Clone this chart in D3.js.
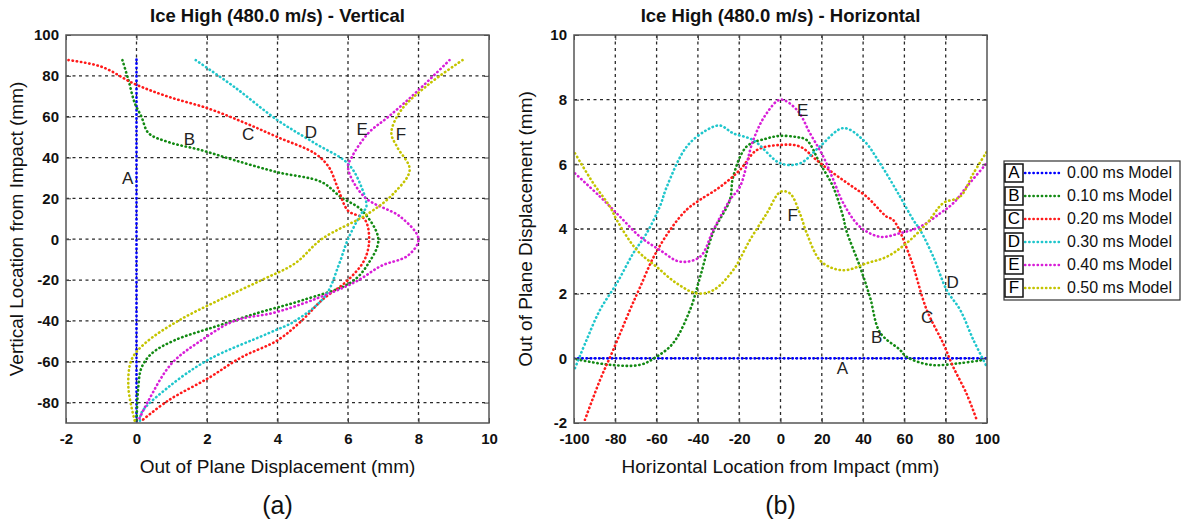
<!DOCTYPE html>
<html>
<head>
<meta charset="utf-8">
<script src="https://cdn.jsdelivr.net/npm/d3@7"></script>
<style>
  body { margin: 0; background: #fff; }
  svg { font-family: Arial, "Liberation Sans", sans-serif; }
  .tick text { font-size: 15px; font-weight: bold; fill: #111; }
  .grid line { stroke: #2a2a2a; stroke-dasharray: 3,3.5; stroke-width: 1.3; }
</style>
</head>
<body>
<svg id="chart" width="1188" height="526"></svg>
<script>
const seriesNames = ['0.00 ms Model', '0.10 ms Model', '0.20 ms Model', '0.30 ms Model', '0.40 ms Model', '0.50 ms Model'];
const seriesKeys = ['A', 'B', 'C', 'D', 'E', 'F'];
const colors = ['#0000ff', '#138a13', '#ff1a1a', '#1fc6cc', '#d81ed8', '#c4c400'];

// (a) vertical cut: [displacement, vertical location]
const vertA = [[0, 88], [0, 60], [0, 30], [0, 0], [0, -30], [0, -60], [0, -90]];
const vertB = [[-0.4, 87.7], [-0.23, 78], [-0.05, 66.7], [0.14, 60], [0.34, 52], [0.9, 47.6], [1.84, 43.6], [2.78, 38.7], [4.0, 32.8], [5.25, 28], [5.8, 20.6], [6.4, 14], [6.86, 0], [6.58, -11.8], [6.1, -21], [4.68, -30], [3.46, -36], [2.2, -43], [1.08, -49.5], [0.43, -56], [0.14, -63], [0.05, -72.5], [0, -90]];
const vertC = [[-1.93, 87.7], [-1.0, 84.5], [-0.05, 76], [0.9, 69.8], [2.04, 64], [3.07, 57], [4.0, 50], [5.06, 42], [5.45, 35.5], [5.7, 25.6], [6.0, 14], [6.47, 9.8], [6.6, 0], [6.47, -10], [6.0, -20], [5.25, -30], [4.68, -40], [4.0, -49.5], [2.98, -57.8], [2.04, -68], [0.9, -79], [0.14, -89]];
const vertD = [[1.68, 87.7], [2.78, 74.5], [4.0, 58.3], [5.06, 47], [6.0, 37], [6.38, 25.6], [6.52, 15.7], [6.38, 12.6], [6.0, 0], [5.73, -13], [5.35, -27.9], [4.5, -40], [3.75, -46], [2.04, -59], [0.9, -72.5], [0.14, -85], [0.1, -90]];
const vertE = [[8.88, 87.7], [8.0, 73], [7.15, 60], [6.58, 52], [6.1, 40], [6.0, 35], [6.47, 20.6], [7.5, 10.8], [8.0, 0], [7.7, -8], [6.95, -13], [6.2, -21], [4.96, -30], [3.9, -36], [2.78, -40], [1.84, -49.5], [0.99, -61], [0.34, -79], [0.05, -89]];
const vertF = [[9.25, 87.7], [8.3, 76], [7.5, 63], [7.23, 52], [7.4, 45], [7.75, 34], [7.3, 22.5], [6.58, 12.6], [5.25, 0], [4.5, -11.8], [3.55, -20], [2.32, -30], [1.18, -40], [0.24, -51], [-0.14, -59], [-0.23, -72.5], [-0.05, -89]];
const vertLabels = [[-0.25, 29], [1.5, 48.5], [3.17, 51], [4.95, 52], [6.4, 53], [7.5, 51]];

// (b) horizontal cut: [horizontal location, displacement]
const horA = [[-100, 0], [-50, 0], [0, 0], [50, 0], [100, 0]];
const horB = [[-98.7, -0.03], [-82.6, -0.2], [-68, -0.2], [-60, 0.05], [-52, 0.47], [-43.8, 1.5], [-39, 2.5], [-32.6, 3.9], [-24.5, 4.9], [-23, 5.6], [-16.4, 6.55], [-6.7, 6.8], [0, 6.88], [8, 6.84], [12.7, 6.75], [19, 6.04], [25.5, 5.3], [30.3, 4.38], [31.8, 3.97], [38.5, 2.83], [43.3, 1.9], [48.2, 0.8], [57.9, 0.26], [61, 0.05], [72.4, -0.2], [87, -0.15], [98, -0.05]];
const horC = [[-94.7, -1.9], [-87.4, -0.67], [-81, 0.26], [-72.9, 1.5], [-68, 2.2], [-61.7, 3.1], [-53.5, 3.97], [-45.4, 4.6], [-39, 4.9], [-29.3, 5.3], [-19.6, 5.83], [-11.5, 6.44], [0, 6.6], [9.4, 6.55], [17.5, 6.13], [25.5, 5.73], [33.7, 5.36], [41.7, 5.0], [51.4, 4.38], [54.6, 4.28], [62.7, 3.14], [70.8, 1.5], [78.8, 0.46], [83.6, -0.26], [90, -1.08], [95, -1.9]];
const horD = [[-99.5, -0.3], [-93.9, 0.57], [-87.4, 1.5], [-79.3, 2.32], [-71.3, 3.25], [-64.8, 3.87], [-58.4, 4.7], [-55.1, 5.3], [-45.4, 6.55], [-35.7, 7.06], [-29.3, 7.2], [-22.9, 6.96], [-13.2, 6.75], [0, 6.03], [9.4, 6.03], [19, 6.55], [30.4, 7.12], [40.1, 6.75], [48.2, 6.03], [57.9, 5.0], [64.3, 4.28], [67.6, 3.97], [74, 3.14], [80.5, 2.11], [87, 1.5], [93.4, 0.57], [99.9, -0.26]];
const horE = [[-99.5, 5.72], [-87.4, 5.0], [-77.7, 4.38], [-68, 3.76], [-58.4, 3.35], [-48.7, 2.99], [-39, 3.14], [-32.5, 3.97], [-24.5, 4.9], [-19.6, 5.31], [-13.2, 6.75], [-6.7, 7.58], [0, 8.0], [8, 7.68], [14.3, 6.96], [20.7, 6.24], [25.6, 5.52], [30.4, 4.8], [38.5, 4.07], [48.2, 3.76], [57.9, 3.87], [67.6, 4.07], [77.2, 4.48], [83.7, 4.8], [90.2, 5.31], [99.8, 6.03]];
const horF = [[-99.5, 6.34], [-90.6, 5.41], [-82.6, 4.69], [-79.3, 4.28], [-69.6, 3.35], [-60, 2.83], [-50.3, 2.32], [-40.6, 2.01], [-32.5, 2.11], [-22.9, 2.73], [-14.8, 3.66], [-6.7, 4.48], [0, 5.15], [4.6, 5.1], [9.4, 4.48], [12.7, 3.87], [19, 3.04], [25.6, 2.78], [32, 2.73], [41.7, 2.94], [51.4, 3.14], [61, 3.56], [70.8, 4.17], [78.8, 4.8], [87, 5.0], [93.4, 5.72], [99.9, 6.39]];
const horLabels = [[30, -0.36], [46.6, 0.62], [71, 1.24], [83.4, 2.3], [10.7, 7.63], [5.9, 4.38]];

const vertTicksX = d3.range(-2, 11, 2);
const vertTicksY = d3.range(-80, 101, 20);
const horTicksX = d3.range(-100, 101, 20);
const horTicksY = d3.range(-2, 11, 2);

const svg = d3.select('#chart');
const plain = d => String(d);

function drawPanel(opts) {
  const { left, top, width, height } = opts;
  const x = d3.scaleLinear().domain(opts.xDomain).range([left, left + width]);
  const y = d3.scaleLinear().domain(opts.yDomain).range([top + height, top]);
  const g = svg.append('g');

  // grid
  const grid = g.append('g').attr('class', 'grid');
  grid.selectAll('.gx').data(opts.xTicks.filter(t => t !== opts.xDomain[0] && t !== opts.xDomain[1]))
    .enter().append('line')
    .attr('x1', d => x(d)).attr('x2', d => x(d))
    .attr('y1', top).attr('y2', top + height);
  grid.selectAll('.gy').data(opts.yTicks.filter(t => t !== opts.yDomain[0] && t !== opts.yDomain[1]))
    .enter().append('line')
    .attr('y1', d => y(d)).attr('y2', d => y(d))
    .attr('x1', left).attr('x2', left + width);

  // series
  const line = d3.line().x(d => x(d[0])).y(d => y(d[1])).curve(d3.curveCatmullRom.alpha(0.5));
  const clipId = 'clip' + left;
  svg.append('clipPath').attr('id', clipId).append('rect')
    .attr('x', left).attr('y', top).attr('width', width).attr('height', height);
  g.append('g').attr('clip-path', `url(#${clipId})`)
    .selectAll('path').data(opts.series).enter().append('path')
    .attr('d', line)
    .attr('fill', 'none')
    .attr('stroke', (d, i) => colors[i])
    .attr('stroke-width', 2.6)
    .attr('stroke-linecap', 'round')
    .attr('stroke-dasharray', '0.4,3.8');

  // letter labels
  g.selectAll('.lab').data(opts.labels).enter().append('text')
    .attr('x', d => x(d[0])).attr('y', d => y(d[1]))
    .attr('text-anchor', 'middle').attr('dominant-baseline', 'middle')
    .attr('font-size', 17).attr('fill', '#222')
    .text((d, i) => seriesKeys[i]);

  // axes
  const xAxis = d3.axisBottom(x).tickValues(opts.xTicks).tickFormat(plain).tickSize(-5).tickPadding(10);
  const yAxis = d3.axisLeft(y).tickValues(opts.yTicks).tickFormat(plain).tickSize(-5).tickPadding(7);
  g.append('g').attr('transform', `translate(0,${top + height})`).call(xAxis)
    .call(a => a.select('.domain').remove())
    .call(a => a.selectAll('.tick line').attr('stroke', '#444'));
  g.append('g').attr('transform', `translate(${left},0)`).call(yAxis)
    .call(a => a.select('.domain').remove())
    .call(a => a.selectAll('.tick line').attr('stroke', '#444'));
  g.append('g').attr('transform', `translate(0,${top})`)
    .call(d3.axisTop(x).tickValues(opts.xTicks).tickSize(-5).tickFormat(''))
    .call(a => a.select('.domain').remove())
    .call(a => a.selectAll('.tick line').attr('stroke', '#444'));
  g.append('g').attr('transform', `translate(${left + width},0)`)
    .call(d3.axisRight(y).tickValues(opts.yTicks).tickSize(-5).tickFormat(''))
    .call(a => a.select('.domain').remove())
    .call(a => a.selectAll('.tick line').attr('stroke', '#444'));

  g.append('rect').attr('x', left).attr('y', top).attr('width', width).attr('height', height)
    .attr('fill', 'none').attr('stroke', '#555').attr('stroke-width', 1.5);

  // titles
  g.append('text').attr('x', left + width / 2).attr('y', 22)
    .attr('text-anchor', 'middle').attr('font-size', 18.5).attr('font-weight', 'bold')
    .attr('fill', '#111')
    .text(opts.title);
  g.append('text').attr('x', left + width / 2).attr('y', 473)
    .attr('text-anchor', 'middle').attr('font-size', 19).attr('fill', '#111')
    .text(opts.xTitle);
  g.append('text')
    .attr('transform', `translate(${opts.yTitleX},${top + height / 2}) rotate(-90)`)
    .attr('text-anchor', 'middle').attr('font-size', 19).attr('fill', '#111')
    .text(opts.yTitle);
  g.append('text').attr('x', left + width / 2).attr('y', 514)
    .attr('text-anchor', 'middle').attr('font-size', 25).attr('fill', '#111')
    .text(opts.caption);
}

drawPanel({
  left: 66, top: 35, width: 423, height: 388,
  xDomain: [-2, 10], yDomain: [-90, 100],
  xTicks: vertTicksX, yTicks: vertTicksY,
  series: [vertA, vertB, vertC, vertD, vertE, vertF],
  labels: vertLabels,
  title: 'Ice High (480.0 m/s) - Vertical',
  xTitle: 'Out of Plane Displacement (mm)',
  yTitle: 'Vertical Location from Impact (mm)',
  yTitleX: 23,
  caption: '(a)'
});

drawPanel({
  left: 574, top: 35, width: 413, height: 388,
  xDomain: [-100, 100], yDomain: [-2, 10],
  xTicks: horTicksX, yTicks: horTicksY,
  series: [horA, horB, horC, horD, horE, horF],
  labels: horLabels,
  title: 'Ice High (480.0 m/s) - Horizontal',
  xTitle: 'Horizontal Location from Impact (mm)',
  yTitle: 'Out of Plane Displacement (mm)',
  yTitleX: 532,
  caption: '(b)'
});

// legend
const legend = svg.append('g');
legend.append('rect').attr('x', 1004).attr('y', 161).attr('width', 176).attr('height', 139)
  .attr('fill', '#fff').attr('stroke', '#333').attr('stroke-width', 1.2);
const rowY = d3.scalePoint().domain(seriesKeys).range([173, 288]);
const rows = legend.selectAll('.row').data(seriesKeys).enter().append('g')
  .attr('transform', d => `translate(0,${rowY(d)})`);
rows.append('rect').attr('x', 1005).attr('y', -9).attr('width', 18).attr('height', 18)
  .attr('fill', '#fff').attr('stroke', '#111').attr('stroke-width', 1.5);
rows.append('text').attr('x', 1014).attr('y', 1).attr('dominant-baseline', 'middle')
  .attr('text-anchor', 'middle').attr('font-size', 17).text(d => d);
rows.append('line').attr('x1', 1025).attr('x2', 1060).attr('y1', 0).attr('y2', 0)
  .attr('stroke', (d, i) => colors[i]).attr('stroke-width', 2.4)
  .attr('stroke-linecap', 'round').attr('stroke-dasharray', '0.4,3.8');
rows.append('text').attr('x', 1067).attr('y', 1).attr('dominant-baseline', 'middle')
  .attr('font-size', 16).attr('fill', '#111').text((d, i) => seriesNames[i]);
</script>
</body>
</html>
